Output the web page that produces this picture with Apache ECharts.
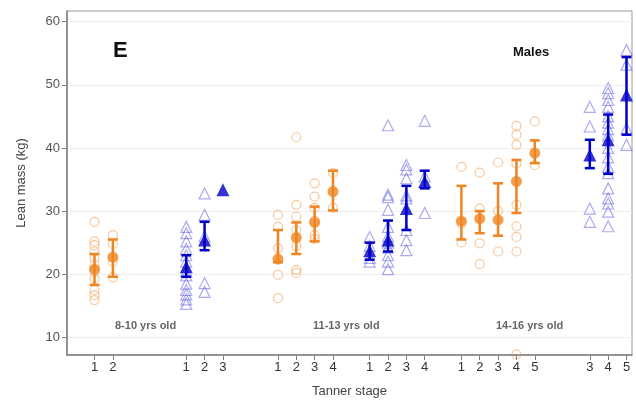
<!DOCTYPE html>
<html>
<head>
<meta charset="utf-8">
<script src="https://cdn.jsdelivr.net/npm/echarts@6/dist/echarts.min.js"></script>
<style>html,body{margin:0;padding:0;background:#fff}#c{width:636px;height:412px}</style>
</head>
<body>
<div id="c"></div>
<script>
// x positions of each Tanner-stage slot (in slot units) and their tick labels
const slotPos   = [0, 1, 5, 6, 7, 10, 11, 12, 13, 15, 16, 17, 18, 20, 21, 22, 23, 24, 27, 28, 29];
const slotLabel = ['1','2','1','2','3','1','2','3','4','1','2','3','4','1','2','3','4','5','3','4','5'];
const slotGroup = ['o','o','b','b','b','o','o','o','o','b','b','b','b','o','o','o','o','o','b','b','b'];

// group means and error-bar ends
const slotMean = [20.8, 22.7, 21.2, 25.4, 33.4, 22.4, 25.8, 28.2, 33.1, 23.7, 25.4, 30.4, 34.7, 28.4, 28.8, 28.6, 34.7, 39.2, 38.9, 41.3, 48.4];
const slotLow  = [18.3, 19.6, 19.6, 23.8, 33.4, 21.9, 23.2, 25.2, 30.1, 22.3, 23.6, 27.0, 33.6, 25.5, 26.5, 26.1, 29.7, 37.6, 36.8, 35.9, 42.1];
const slotHigh = [23.2, 25.5, 23.0, 28.3, 33.4, 27.0, 28.2, 30.7, 36.4, 25.0, 28.5, 34.0, 36.4, 34.0, 30.0, 34.4, 38.1, 41.2, 41.3, 45.3, 54.4];

// individual observations per slot
const slotPoints = [
  [28.3, 25.2, 24.6, 23.6, 22.5, 21.5, 20.4, 19.3, 17.5, 16.7, 15.9],
  [26.2, 24.8, 22.0, 19.5],
  [27.5, 26.5, 25.2, 24.0, 23.0, 22.0, 20.5, 19.8, 18.5, 17.5, 16.8, 16.0, 15.3],
  [32.8, 29.4, 26.0, 18.6, 17.2],
  [],
  [29.4, 27.5, 24.1, 19.9, 16.2],
  [41.7, 31.0, 29.1, 27.0, 24.5, 20.7, 20.2],
  [34.4, 32.3, 30.5, 28.5, 26.2, 25.6],
  [36.0, 30.5],
  [25.9, 24.5, 22.6, 22.0],
  [43.6, 32.6, 32.2, 30.2, 27.5, 26.0, 25.0, 24.2, 23.0, 22.0, 20.8],
  [37.3, 36.6, 35.2, 32.5, 32.0, 27.0, 25.4, 23.8],
  [44.3, 35.5, 29.7],
  [37.0, 28.0, 25.0],
  [36.1, 30.4, 24.9, 21.6],
  [37.7, 30.0, 23.6],
  [43.5, 42.1, 40.5, 37.5, 31.0, 27.6, 25.9, 23.6, 7.3],
  [44.2, 37.3],
  [46.5, 43.4, 30.4, 28.3],
  [49.5, 48.7, 47.6, 46.5, 45.0, 44.0, 43.0, 42.0, 40.0, 38.5, 37.0, 36.0, 33.6, 32.0, 31.2, 29.9, 27.6],
  [55.5, 53.2, 43.1, 40.5]
];

const yTicks = [10, 20, 30, 40, 50, 60];
const groupTexts = ['8-10 yrs old', '11-13 yrs old', '14-16 yrs old'];

const ORANGE = '#EF8420', BLUE = '#0000C8';

function pts(g) {
  const out = [];
  slotPos.forEach((p, i) => { if (slotGroup[i] === g) slotPoints[i].forEach(v => out.push([p, v])); });
  return out;
}
function means(g) {
  const out = [];
  slotPos.forEach((p, i) => { if (slotGroup[i] === g) out.push([p, slotMean[i]]); });
  return out;
}
function bars(g) {
  const out = [];
  slotPos.forEach((p, i) => { if (slotGroup[i] === g && slotHigh[i] > slotLow[i]) out.push([p, slotLow[i], slotHigh[i]]); });
  return out;
}
function errRender(color) {
  return function (params, api) {
    const x = api.value(0);
    const lo = api.coord([x, api.value(1)]);
    const hi = api.coord([x, api.value(2)]);
    const w = 5;
    const st = { stroke: color, lineWidth: 2.5 };
    return { type: 'group', children: [
      { type: 'line', shape: { x1: lo[0], y1: lo[1], x2: hi[0], y2: hi[1] }, style: st },
      { type: 'line', shape: { x1: lo[0] - w, y1: lo[1], x2: lo[0] + w, y2: lo[1] }, style: st },
      { type: 'line', shape: { x1: hi[0] - w, y1: hi[1], x2: hi[0] + w, y2: hi[1] }, style: st }
    ]};
  };
}

const chart = echarts.init(document.getElementById('c'), null, { renderer: 'canvas' });
chart.setOption({
  animation: false,
  backgroundColor: '#fff',
  grid: { left: 67, right: 4, top: 11, bottom: 57, show: true, borderColor: '#9a9a9a', borderWidth: 1 },
  xAxis: {
    type: 'value', min: -1.5, max: 29.3,
    name: 'Tanner stage', nameLocation: 'middle', nameGap: 30,
    nameTextStyle: { fontSize: 13, color: '#444', fontFamily: 'Liberation Sans' },
    axisLine: { onZero: false, lineStyle: { color: '#808080', width: 1.5 } },
    axisTick: { show: true, customValues: slotPos, length: 5, lineStyle: { color: '#808080' } },
    axisLabel: { customValues: slotPos, fontSize: 13, color: '#333', fontFamily: 'Liberation Sans', margin: 6,
      formatter: v => { const i = slotPos.findIndex(p => Math.abs(p - v) < 1e-6); return i >= 0 ? slotLabel[i] : ''; } },
    splitLine: { show: false }
  },
  yAxis: {
    type: 'value', min: 7.2, max: 61.7,
    name: 'Lean mass (kg)', nameLocation: 'middle', nameGap: 39,
    nameTextStyle: { fontSize: 13, color: '#444', fontFamily: 'Liberation Sans' },
    axisLine: { show: true, onZero: false, lineStyle: { color: '#808080', width: 1.5 } },
    axisTick: { show: true, customValues: yTicks, length: 5, lineStyle: { color: '#808080' } },
    axisLabel: { customValues: yTicks, fontSize: 13, color: '#555', fontFamily: 'Liberation Sans', margin: 7 },
    splitLine: { show: true, lineStyle: { color: '#eeeeee', width: 1 } }
  },
  graphic: [
    { type: 'text', left: 113, top: 40, style: { text: 'E', font: 'bold 22px Liberation Sans', fill: '#111' } },
    { type: 'text', left: 513, top: 46, style: { text: 'Males', font: 'bold 13px Liberation Sans', fill: '#111' } },
    { type: 'text', left: 115, top: 320, style: { text: groupTexts[0], font: 'bold 11px Liberation Sans', fill: '#666' } },
    { type: 'text', left: 313, top: 320, style: { text: groupTexts[1], font: 'bold 11px Liberation Sans', fill: '#666' } },
    { type: 'text', left: 496, top: 320, style: { text: groupTexts[2], font: 'bold 11px Liberation Sans', fill: '#666' } }
  ],
  series: [
    { type: 'scatter', data: pts('o'), symbol: 'circle', symbolSize: 9, z: 2,
      itemStyle: { color: 'rgba(255,255,255,0)', borderColor: 'rgba(240,140,50,0.6)', borderWidth: 1.2 } },
    { type: 'scatter', data: pts('b'), symbol: 'triangle', symbolSize: 11, z: 2,
      itemStyle: { color: 'rgba(255,255,255,0)', borderColor: 'rgba(80,80,220,0.6)', borderWidth: 1.2 } },
    { type: 'custom', data: bars('o'), renderItem: errRender(ORANGE), z: 3, encode: { x: 0, y: [1, 2] } },
    { type: 'custom', data: bars('b'), renderItem: errRender(BLUE), z: 3, encode: { x: 0, y: [1, 2] } },
    { type: 'scatter', data: means('o'), symbol: 'circle', symbolSize: 11, z: 4, itemStyle: { color: ORANGE } },
    { type: 'scatter', data: means('b'), symbol: 'triangle', symbolSize: 13, z: 4, itemStyle: { color: BLUE } }
  ]
});
</script>
</body>
</html>
